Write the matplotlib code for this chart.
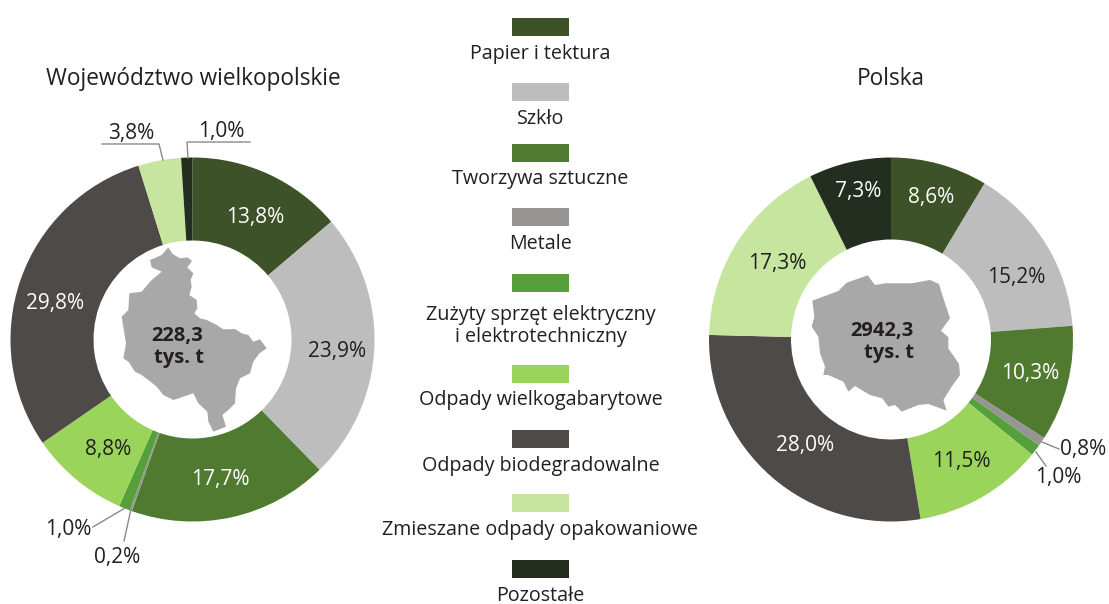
import matplotlib
matplotlib.use("Agg")
import matplotlib.pyplot as plt
from matplotlib.patches import Polygon, Rectangle

plt.rcParams['font.family'] = ['Open Sans', 'DejaVu Sans']

W, H = 1109, 604
categories = ["Papier i tektura", "Szkło", "Tworzywa sztuczne", "Metale",
              "Zużyty sprzęt elektryczny\ni elektrotechniczny", "Odpady wielkogabarytowe",
              "Odpady biodegradowalne", "Zmieszane odpady opakowaniowe", "Pozostałe"]
wielkopolskie = [13.8, 23.9, 17.7, 0.2, 1.0, 8.8, 29.8, 3.8, 1.0]
polska = [8.6, 15.2, 10.3, 0.8, 1.0, 11.5, 28.0, 17.3, 7.3]
colors = ["#3D5228", "#BDBDBD", "#4F7A30", "#979593", "#55A03A",
          "#9AD45A", "#4E4A47", "#C6E69F", "#232E20"]
dark = "#231F20"
text_colors_left = ["#FFFFFF", dark, "#FFFFFF", dark, dark, dark, "#FFFFFF", dark, dark]
text_colors_right = ["#FFFFFF", dark, "#FFFFFF", dark, dark, dark, "#FFFFFF", dark, "#FFFFFF"]
leader = "#8A8A8A"

left_label_xy = [(255, 217), (337, 352), (220, 480), (117, 558), (68, 530),
                 (108, 450), (55, 303), (131, 134), (221, 132)]
right_label_xy = [(931, 197), (1016, 278), (1030, 373), (1083, 450), (1058, 478),
                  (961, 462), (805, 446), (777, 264), (858, 192)]
left_leaders = [[(102, 144), (159, 144), (163, 160)], [(250, 142), (187, 142), (188, 158)],
                [(93, 527), (125, 508)], [(124, 541), (131, 509)]]
right_leaders = [[(1059, 449), (1042, 442)], [(1046, 466), (1036, 452)]]
swatch_y = [18, 83, 144, 208, 274, 365, 430, 494, 560]
legend_y = [54, 119, 179, 244, 326, 400, 466, 530, 596]

wlkp_zoom = [(205,52),(218,72),(240,85),(262,82),(276,93),(262,112),(280,130),(272,150),(275,170),
    (268,195),(290,210),(292,235),(283,250),(300,265),(320,270),(350,285),(370,298),(405,297),
    (425,310),(445,315),(460,335),(480,328),(500,355),(478,370),(460,395),(450,430),(420,445),
    (408,475),(405,520),(385,540),(367,555),(378,590),(340,605),(325,575),(322,545),(295,520),
    (280,490),(250,500),(220,510),(190,495),(170,470),(145,450),(125,435),(105,425),(85,395),
    (70,385),(78,340),(65,260),(85,240),(88,190),(125,185),(155,150),(185,125),(155,112),(150,90),(185,75)]
pl_zoom = [(52,122),(130,93),(155,68),(218,46),(240,75),(270,70),(350,70),(405,60),(432,72),
    (445,115),(465,175),(438,212),(460,232),(460,265),(492,312),(495,345),(470,380),(445,420),
    (455,452),(400,432),(370,435),(320,455),(300,435),(280,440),(262,415),(225,405),(180,378),
    (160,395),(145,365),(100,345),(85,345),(90,320),(75,280),(70,230),(50,200),(58,170)]

fig = plt.figure(figsize=(W / 100, H / 100), dpi=100, facecolor="white")
bg = fig.add_axes([0, 0, 1, 1], zorder=2)
bg.set_xlim(0, W); bg.set_ylim(H, 0); bg.axis("off"); bg.patch.set_alpha(0)


def donut(values, cx, cy, R, r):
    ax = fig.add_axes([(cx - R) / W, 1 - (cy + R) / H, 2 * R / W, 2 * R / H], zorder=1)
    ax.pie(values, colors=colors, startangle=90, counterclock=False, radius=1,
           wedgeprops=dict(width=1 - r / R, linewidth=0))
    ax.set_xlim(-1, 1); ax.set_ylim(-1, 1); ax.set_aspect("equal")


donut(wielkopolskie, 192.5, 339.5, 182, 99)
donut(polska, 891, 339.5, 182, 100)

bg.add_patch(Polygon([(100 + x / 3, 230 + y / 3) for x, y in wlkp_zoom], fc="#A8A8A8", ec="none"))
bg.add_patch(Polygon([(795 + x / 3, 260 + y / 3) for x, y in pl_zoom], fc="#A8A8A8", ec="none"))

fs = 15
for vals, xy, tcs in ((wielkopolskie, left_label_xy, text_colors_left),
                      (polska, right_label_xy, text_colors_right)):
    for v, (x, y), c in zip(vals, xy, tcs):
        bg.text(x, y, f"{v:.1f}%".replace(".", ","), color=c, fontsize=fs, ha="center", va="center")

for pts in left_leaders + right_leaders:
    bg.plot(*zip(*pts), color=leader, lw=1)

bg.text(193, 79, "Województwo wielkopolskie", fontsize=16.3, color=dark, ha="center", va="center")
bg.text(891, 79, "Polska", fontsize=16.3, color=dark, ha="center", va="center")

bf = 14.5
bg.text(177, 336, "228,3", fontsize=bf, fontweight="bold", color=dark, ha="center", va="center")
bg.text(179, 358, "tys. t", fontsize=bf, fontweight="bold", color=dark, ha="center", va="center")
bg.text(882, 331, "2942,3", fontsize=bf, fontweight="bold", color=dark, ha="center", va="center")
bg.text(914, 353, "tys. t", fontsize=bf, fontweight="bold", color=dark, ha="right", va="center")

for name, c, sy, ly in zip(categories, colors, swatch_y, legend_y):
    bg.add_patch(Rectangle((512, sy), 57, 18, fc=c, ec="none"))
    bg.text(540.5, ly, name, fontsize=14.2, color=dark, ha="center", va="center", linespacing=1.15)

fig.savefig("out.png", dpi=100)
